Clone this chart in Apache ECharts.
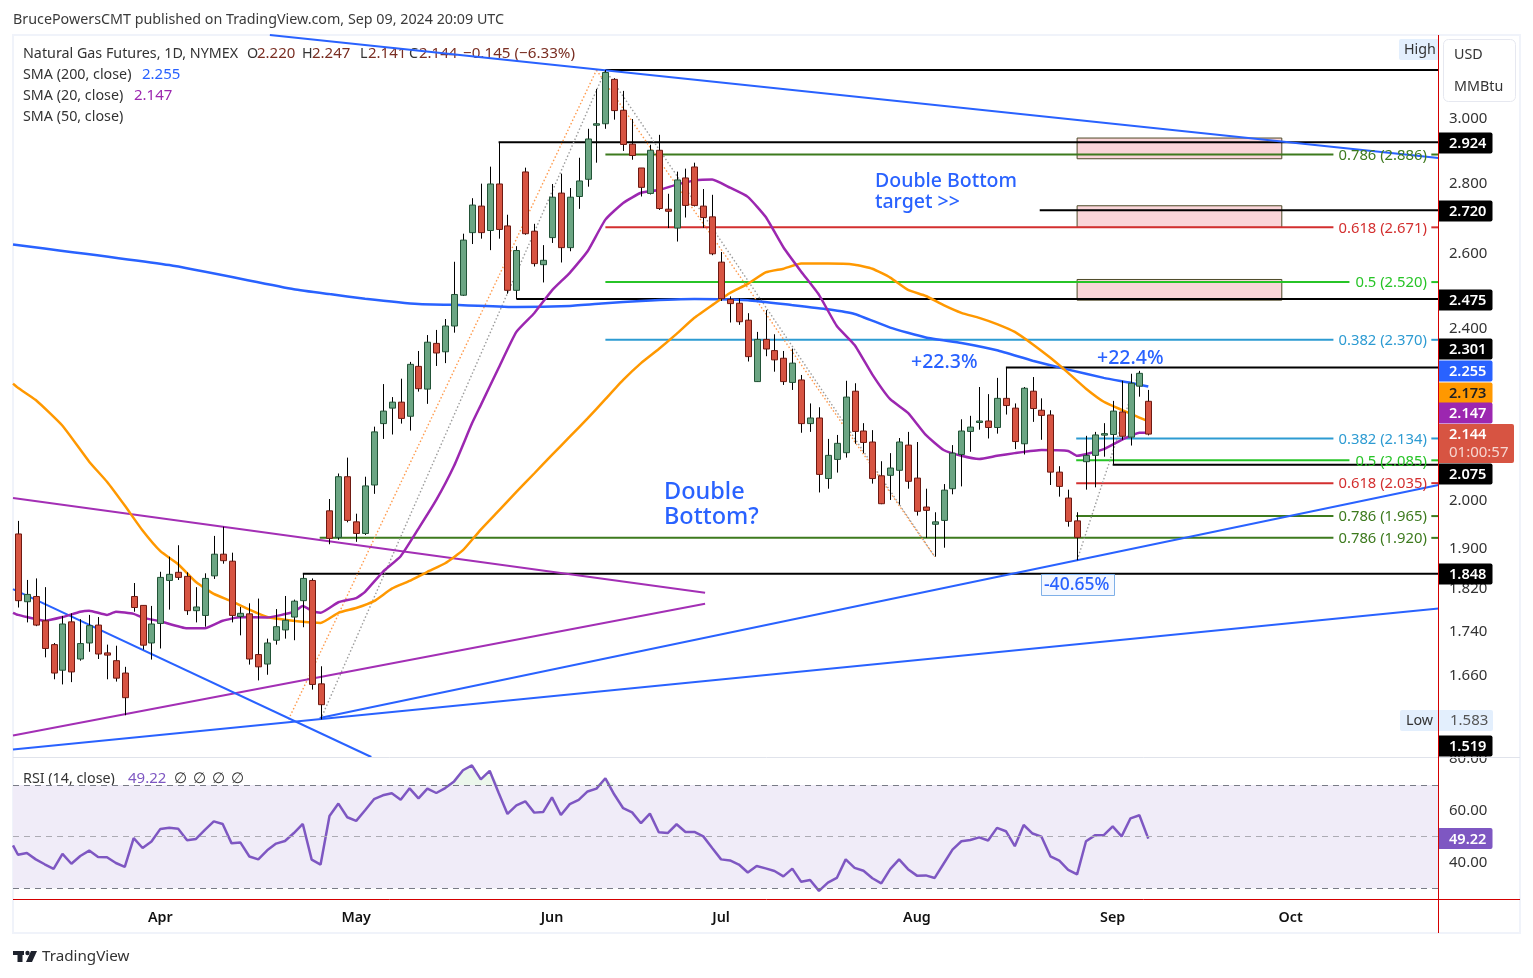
<!DOCTYPE html>
<html><head><meta charset="utf-8">
<style>html,body{margin:0;padding:0;background:#fff}#c{width:1533px;height:978px}</style>
<script src="https://cdn.jsdelivr.net/npm/echarts@6/dist/echarts.min.js"></script>
</head><body><div id="c"></div>
<script>
const opens=[1.928,1.794,1.804,1.758,1.714,1.668,1.756,1.688,1.717,1.750,1.699,1.685,1.663,1.804,1.787,1.717,1.753,1.835,1.851,1.843,1.777,1.768,1.844,1.887,1.873,1.766,1.771,1.696,1.679,1.722,1.741,1.765,1.796,1.835,1.644,1.976,1.921,2.049,1.953,1.929,2.031,2.168,2.204,2.218,2.185,2.304,2.249,2.361,2.340,2.405,2.485,2.656,2.732,2.662,2.797,2.675,2.498,2.833,2.660,2.567,2.642,2.770,2.614,2.760,2.811,2.978,2.982,3.126,3.025,2.918,2.845,2.769,2.899,2.723,2.669,2.815,2.848,2.732,2.701,2.574,2.474,2.464,2.420,2.267,2.371,2.343,2.324,2.265,2.271,2.168,2.181,2.045,2.087,2.102,2.244,2.151,2.126,2.051,2.052,2.063,2.119,2.046,1.984,1.948,1.956,2.023,2.098,2.150,2.171,2.174,2.159,2.227,2.204,2.122,2.244,2.199,2.188,2.059,2.003,1.955,2.082,2.096,2.143,2.143,2.195,2.137,2.256,2.220];
const closes=[1.796,1.808,1.750,1.707,1.663,1.752,1.665,1.716,1.749,1.697,1.695,1.654,1.620,1.783,1.713,1.752,1.841,1.847,1.841,1.777,1.784,1.839,1.887,1.874,1.768,1.772,1.688,1.674,1.717,1.747,1.759,1.795,1.839,1.643,1.608,1.919,2.049,1.956,1.929,2.029,2.149,2.197,2.218,2.180,2.309,2.250,2.364,2.337,2.405,2.487,2.635,2.735,2.656,2.797,2.665,2.498,2.606,2.653,2.570,2.579,2.758,2.614,2.758,2.806,2.934,2.982,3.149,3.024,2.917,2.883,2.787,2.899,2.725,2.717,2.809,2.734,2.734,2.699,2.597,2.476,2.463,2.416,2.328,2.371,2.347,2.320,2.267,2.312,2.168,2.181,2.054,2.096,2.123,2.230,2.150,2.125,2.045,1.991,2.068,2.126,2.039,1.975,1.977,1.953,2.020,2.101,2.151,2.160,2.174,2.159,2.227,2.210,2.127,2.251,2.203,2.187,2.059,2.028,1.954,1.921,2.096,2.142,2.145,2.197,2.139,2.263,2.287,2.144];
const highs=[1.955,1.836,1.839,1.822,1.717,1.767,1.772,1.761,1.769,1.765,1.714,1.712,1.674,1.830,1.787,1.786,1.852,1.882,1.905,1.851,1.822,1.849,1.924,1.943,1.890,1.784,1.791,1.800,1.725,1.780,1.805,1.798,1.849,1.839,1.675,2.001,2.056,2.091,1.970,2.049,2.161,2.261,2.230,2.274,2.315,2.342,2.382,2.395,2.423,2.575,2.653,2.755,2.798,2.849,2.924,2.707,2.618,2.846,2.681,2.621,2.797,2.828,2.785,2.876,2.966,3.094,3.157,3.130,3.088,2.997,2.845,2.916,2.947,2.768,2.834,2.843,2.861,2.782,2.765,2.602,2.482,2.477,2.438,2.390,2.446,2.384,2.342,2.348,2.283,2.215,2.206,2.133,2.142,2.269,2.263,2.169,2.153,2.083,2.101,2.135,2.149,2.126,2.023,1.973,2.033,2.119,2.178,2.186,2.254,2.237,2.276,2.301,2.215,2.254,2.278,2.227,2.199,2.072,2.021,1.973,2.140,2.149,2.169,2.221,2.269,2.286,2.293,2.247];
const lows=[1.783,1.755,1.748,1.691,1.652,1.643,1.647,1.685,1.701,1.688,1.652,1.648,1.590,1.775,1.705,1.687,1.707,1.779,1.836,1.769,1.755,1.747,1.838,1.868,1.755,1.731,1.678,1.650,1.660,1.714,1.725,1.722,1.746,1.634,1.583,1.907,1.916,1.952,1.912,1.926,2.012,2.133,2.143,2.168,2.152,2.243,2.214,2.305,2.312,2.388,2.483,2.624,2.639,2.607,2.639,2.489,2.475,2.650,2.562,2.519,2.627,2.573,2.604,2.724,2.789,2.861,2.966,2.995,2.897,2.870,2.760,2.766,2.721,2.669,2.631,2.699,2.731,2.670,2.593,2.470,2.414,2.408,2.316,2.266,2.329,2.291,2.259,2.247,2.147,2.149,2.015,2.023,2.058,2.091,2.122,2.101,2.034,1.990,1.999,1.989,2.023,1.966,1.920,1.882,1.900,2.011,2.028,2.104,2.154,2.134,2.145,2.189,2.110,2.098,2.172,2.131,2.031,2.006,1.943,1.875,2.021,2.026,2.093,2.075,2.131,2.118,2.231,2.141];

const sma20Idx=[-0.56,0,1,3,5,7,8,10,11,13,14,16,19,21,23,25,28,31,32,33,34,36,38,39,41,43,45,47,49,51,52,54,56,58,60,62,64,66,68,70,72,74,76,78,80,82,84,86,88,90,92,94,96,98,100,102,104,106,108,110,112,115,118,119,122,124,126,127];
const sma20=[1.773,1.769,1.765,1.758,1.765,1.775,1.777,1.769,1.775,1.771,1.764,1.757,1.744,1.744,1.758,1.765,1.764,1.775,1.786,1.777,1.773,1.793,1.801,1.813,1.852,1.883,1.939,1.999,2.073,2.168,2.211,2.300,2.390,2.438,2.498,2.545,2.604,2.693,2.741,2.771,2.779,2.795,2.807,2.810,2.786,2.759,2.701,2.615,2.548,2.486,2.405,2.357,2.284,2.225,2.193,2.142,2.108,2.095,2.088,2.095,2.101,2.108,2.106,2.095,2.110,2.131,2.147,2.147];
const sma50Idx=[-0.56,0,2,5,8,10,12,14,16,18,20,22,24,26,28,30,32,34,36,38,40,42,44,46,48,50,52,54,56,58,60,62,64,66,68,70,72,74,76,78,80,82,84,86,88,91,94,96,98,100,102,104,106,108,110,112,114,116,118,120,122,124,126,127];
const sma50=[2.262,2.252,2.223,2.163,2.082,2.038,1.987,1.935,1.893,1.867,1.832,1.809,1.795,1.779,1.765,1.760,1.756,1.754,1.773,1.782,1.795,1.819,1.834,1.852,1.869,1.895,1.937,1.976,2.016,2.056,2.097,2.138,2.180,2.225,2.271,2.312,2.347,2.385,2.426,2.459,2.491,2.515,2.546,2.556,2.570,2.570,2.567,2.556,2.532,2.499,2.483,2.459,2.439,2.426,2.410,2.390,2.359,2.325,2.288,2.250,2.219,2.200,2.182,2.173];
const sma200Idx=[-0.56,17,31,35,39,45,50,56,62,66,70,76,82,87,91,94,98,102,106,110,114,118,122,125,127];
const sma200=[2.623,2.566,2.501,2.488,2.476,2.462,2.459,2.454,2.457,2.464,2.470,2.475,2.472,2.459,2.448,2.436,2.401,2.376,2.362,2.344,2.318,2.296,2.276,2.264,2.255];
const rsi=[43.0,43.7,41.2,39.3,37.5,43.3,39.5,42.5,44.6,42.1,42.0,39.8,38.3,49.4,45.6,48.1,53.0,53.4,53.1,48.6,49.1,52.6,55.9,54.9,47.4,47.7,42.3,41.2,44.7,47.3,48.3,51.4,54.9,41.1,39.2,58.0,62.8,57.5,56.1,60.2,64.5,66.0,66.8,64.3,68.7,64.8,68.6,66.9,68.8,71.4,75.7,77.6,72.2,75.5,67.0,58.8,62.1,63.7,59.3,59.5,65.2,58.4,62.6,64.2,67.5,68.6,72.6,66.3,61.0,59.4,55.2,58.9,51.7,51.4,54.8,51.8,51.8,50.1,45.6,41.2,40.8,39.2,36.1,38.6,37.7,36.7,34.6,37.6,32.5,33.2,29.0,32.2,34.0,41.2,37.9,36.8,33.9,31.9,37.4,41.2,37.4,34.9,35.0,34.0,39.5,45.0,48.2,48.7,49.7,48.5,53.4,52.1,46.3,54.5,51.2,50.0,42.4,40.7,37.1,35.4,48.2,50.5,50.6,54.0,50.1,57.1,58.3,49.22];
const rsiBefore=46.6;

const priceTicks=[3.0,2.8,2.6,2.4,2.0,1.9,1.82,1.74,1.66];
const rsiTicks=[80,60,40];
const monthLabels=['Apr','May','Jun','Jul','Aug','Sep','Oct'];
const monthIdx=[16,38,60,79,101,123,143];

const levelPrice=[3.157,2.924,2.720,2.475,2.301,2.075,1.848];
const levelStart=[66,54,114.8,56,111,123,32];

const fibRatio=['0.786','0.618','0.5','0.382','0.382','0.5','0.618','0.786','0.786'];
const fibPrice=[2.886,2.671,2.520,2.370,2.134,2.085,2.035,1.965,1.920];
const fibStart=[66,66,66,66,118.9,118.9,118.9,118.9,33.9];
const fibColor=['#3D7A1E','#D32F2F','#27C427','#2D9BD2','#2D9BD2','#27C427','#D32F2F','#3D7A1E','#3D7A1E'];

const zoneLeft=119, zoneRight=142;
const zoneTop=[2.937,2.733,2.527];
const zoneBottom=[2.873,2.671,2.472];

const blueTrends=[[[28.3,3.277],[159.6,2.875]],[[33.9,1.5855],[159.6,2.031]],[[-0.56,1.533],[159.6,1.781]],[[-0.56,1.818],[39.7,1.521]]];
const purpleTrends=[[[-0.56,2.003],[77.2,1.811]],[[-0.56,1.556],[77.2,1.790]]];
const orangeDots=[[[30.4,1.583],[65,3.157]],[[65,3.157],[103,1.882]]];
const greyDots=[[[34,1.583],[66,3.157]],[[66,3.157],[103,1.882]],[[119,1.875],[126,2.293]]];

const FONT='"Noto Sans",sans-serif';
const XMIN=-0.56, XMAX=159.55;
const lineS=(data,color,width,type,z,smooth)=>({type:'line',data,xAxisIndex:0,yAxisIndex:0,showSymbol:false,symbol:'none',silent:true,animation:false,z:z||2,
  smooth:smooth||false,lineStyle:{color,width,type:type||'solid',cap:'butt'},clip:true});
const zip=(a,b)=>a.map((v,i)=>[v,b[i]]);

const series=[];
// target zones
series.push({type:'custom',xAxisIndex:0,yAxisIndex:0,silent:true,animation:false,z:1,
  data:zoneTop.map((t,i)=>[zoneLeft,t,zoneRight,zoneBottom[i]]),
  renderItem(p,api){const a=api.coord([api.value(0),api.value(1)]),b=api.coord([api.value(2),api.value(3)]);
    return {type:'rect',shape:{x:a[0],y:a[1],width:b[0]-a[0],height:b[1]-a[1]},style:{fill:'#FAD5D9',stroke:'#4d4a28',lineWidth:1}};}});
// black levels
levelPrice.forEach((p,i)=>series.push(lineS([[levelStart[i],p],[XMAX,p]],'#000',2)));
// fib levels, with a gap for the label
fibPrice.forEach((p,i)=>{
  const gapL=fibRatio[i]==='0.5'?149.6:147.8;
  series.push(lineS([[fibStart[i],p],[gapL,p]],fibColor[i],2));
  series.push(lineS([[158.8,p],[XMAX,p]],fibColor[i],2));
});
orangeDots.forEach(d=>series.push(lineS(d,'#FF9A4D',1.4,[1.5,2.2])));
greyDots.forEach(d=>series.push(lineS(d,'#9C9C9C',1.4,[1.5,2.2])));
purpleTrends.forEach(d=>series.push(lineS(d,'#A32FB5',2)));
blueTrends.forEach(d=>series.push(lineS(d,'#2962FF',2)));
series.push(lineS(zip(sma200Idx,sma200),'#2962FF',2.5,'solid',3,0.15));
series.push(lineS(zip(sma50Idx,sma50),'#FF9800',2.5,'solid',3,0.15));
series.push(lineS(zip(sma20Idx,sma20),'#9C27B0',2.5,'solid',3,0.15));
// candles
series.push({type:'custom',xAxisIndex:0,yAxisIndex:0,silent:true,animation:false,z:5,clip:true,
  data:opens.map((o,i)=>[i,o,closes[i],lows[i],highs[i]]),
  encode:{x:0,y:[1,2,3,4]},
  renderItem(p,api){
    const i=api.value(0),o=api.value(1),c=api.value(2),l=api.value(3),h=api.value(4);
    const up=c>=o;const x=Math.round(api.coord([i,o])[0]);
    const yo=api.coord([i,o])[1],yc=api.coord([i,c])[1],yl=api.coord([i,l])[1],yh=api.coord([i,h])[1];
    const top=Math.min(yo,yc),ht=Math.max(Math.abs(yo-yc),1.5);
    return {type:'group',children:[
      {type:'line',shape:{x1:x+.5,y1:yh,x2:x+.5,y2:yl},style:{stroke:'#000',lineWidth:1}},
      {type:'rect',shape:{x:x-2.5,y:top,width:6,height:ht},style:{fill:up?'#6BA583':'#D75442',stroke:up?'#225437':'#6F1A12',lineWidth:1}}
    ]};
  }});
// fib labels
series.push({type:'custom',xAxisIndex:0,yAxisIndex:0,silent:true,animation:false,z:4,
  data:fibPrice.map(p=>[158.3,p]),
  renderItem(p,api){const c=api.coord([api.value(0),api.value(1)]);const i=p.dataIndex;
    return {type:'text',style:{text:fibRatio[i]+' ('+fibPrice[i].toFixed(3)+')',x:c[0],y:c[1]+1,align:'right',verticalAlign:'middle',fill:fibColor[i],font:'14.8px '+FONT}};}});
// price axis tick labels, placed by the log scale
series.push({type:'custom',xAxisIndex:0,yAxisIndex:0,silent:true,animation:false,z:6,
  data:priceTicks.map(p=>[XMAX,p]),
  renderItem(p,api){const c=api.coord([api.value(0),api.value(1)]);
    return {type:'text',style:{text:priceTicks[p.dataIndex].toFixed(3),x:c[0]+11,y:c[1]+1,align:'left',verticalAlign:'middle',fill:'#333',font:'15px '+FONT}};}});
// RSI
series.push({type:'line',name:'RSI overbought',xAxisIndex:1,yAxisIndex:1,showSymbol:false,symbol:'none',silent:true,animation:false,z:2,
  data:rsi.map((v,i)=>[i,Math.max(v,70)]),lineStyle:{opacity:0,width:0},areaStyle:{origin:70,color:'rgba(76,175,80,0.15)'}});
series.push({type:'line',name:'RSI',xAxisIndex:1,yAxisIndex:1,showSymbol:false,symbol:'none',silent:true,animation:false,z:3,
  data:[[-0.56,rsiBefore]].concat(rsi.map((v,i)=>[i,v])),lineStyle:{color:'#7E57C2',width:2.5},
  markArea:{silent:true,itemStyle:{color:'#F0ECF8'},data:[[{yAxis:70},{yAxis:30}]]},
  markLine:{silent:true,symbol:'none',label:{show:false},animation:false,
    data:[{yAxis:70,lineStyle:{color:'#787B86',type:[6,5],width:1}},{yAxis:50,lineStyle:{color:'#ACABB3',type:[6,5],width:1}},{yAxis:30,lineStyle:{color:'#787B86',type:[6,5],width:1}}]}});

const T=(text,x,y,fill,size,extra,weight)=>Object.assign({type:'text',z:1,silent:true,style:{text,x,y:y+1,fill,font:(weight?weight+' ':'')+(size||14.3)+'px '+FONT,verticalAlign:'middle'}},extra||{});
const g=[];
// header
g.push(T('BrucePowersCMT published on TradingView.com, Sep 09, 2024 20:09 UTC',13,19,'#3a3a3a',14.3));
const VC='#7A2E22',KC='#333';
g.push(T('Natural Gas Futures, 1D, NYMEX',23,53,KC,14.3));
[['O',247,'2.220',257],['H',302,'2.247',312],['L',360,'2.141',368],['C',409,'2.144',419]].forEach(r=>{g.push(T(r[0],r[1],53,KC));g.push(T(r[2],r[3],53,VC,15));});
g.push(T('\u22120.145 (\u22126.33%)',463,53,VC,15.2));
g.push(T('SMA (200, close)',23,74,KC));g.push(T('2.255',142,74,'#2962FF',15));
g.push(T('SMA (20, close)',23,95,KC));g.push(T('2.147',134,95,'#9C27B0',15));
g.push(T('SMA (50, close)',23,116,KC));
g.push(T('RSI (14, close)',23,778,KC));g.push(T('49.22',128,778,'#7E57C2',15));
[174,193,212,231].forEach(x=>g.push(T('\u2205',x,778,KC,15)));
// annotations
const BL='#2962FF';
g.push(T('Double Bottom',875,180,BL,19.5,{z:6},500));g.push(T('target >>',875,201,BL,19.5,{z:6},500));
g.push(T('Double',664,491,BL,23.5,{z:6},500));g.push(T('Bottom?',664,516,BL,23.5,{z:6},500));
g.push(T('+22.3%',911,361,BL,19.5,{z:6},500));g.push(T('+22.4%',1097,357,BL,19.5,{z:6},500));
g.push({type:'rect',z:6,silent:true,shape:{x:1041.5,y:574.5,width:73,height:21},style:{fill:'#F4F8FF',stroke:'#7FB0E8',lineWidth:1}});
g.push(T('-40.65%',1044,584,BL,17.5,{z:7},500));
// frame
const line=(x1,y1,x2,y2,stroke,w,z)=>({type:'line',z:z||50,silent:true,shape:{x1,y1,x2,y2},style:{stroke,lineWidth:w||1}});
g.push({type:'rect',z:0,silent:true,shape:{x:13,y:35,width:1507,height:898},style:{fill:'none',stroke:'#F0F3FA',lineWidth:2}});
g.push(line(13,757.5,1520,757.5,'#E0E3EB',1,0));
g.push(line(1438.5,35,1438.5,933,'#D40000',1,50));
g.push(line(13,899.5,1520,899.5,'#D40000',1,50));
// currency box
g.push({type:'rect',z:60,silent:true,shape:{x:1443.5,y:39.5,width:72,height:62,r:5},style:{fill:'#fff',stroke:'#E6E8F0',lineWidth:1}});
g.push(T('USD',1454,54,'#333',14.3,{z:61}));g.push(T('MMBtu',1454,86,'#333',14.3,{z:61}));
// tags
const tag=(t,y,bg,fg)=>{g.push({type:'rect',z:70,silent:true,shape:{x:1439,y:y-10.5,width:53.5,height:21,r:[0,2,2,0]},style:{fill:bg}});
  g.push(T(t,1449,y,fg||'#fff',14.6,{z:71},600));};
tag('2.924',143,'#000');tag('2.720',211,'#000');tag('2.475',300,'#000');tag('2.301',349,'#000');
tag('2.255',371,'#2962FF');tag('2.173',393,'#FF9800','#222');tag('2.147',413,'#9C27B0');
g.push({type:'rect',z:70,silent:true,shape:{x:1439,y:424,width:75,height:39,r:[0,2,2,0]},style:{fill:'#D75442'}});
g.push(T('2.144',1449,434,'#fff',14.6,{z:71},600));g.push(T('01:00:57',1449,452,'#F6D6D0',15,{z:71}));
tag('2.075',474,'#000');tag('1.848',574,'#000');tag('1.519',746,'#000');
tag('49.22',838.5,'#7E57C2');
// high / low
g.push({type:'rect',z:40,silent:true,shape:{x:1399,y:39,width:39,height:21,r:[2,0,0,2]},style:{fill:'#E3EFFD'}});
g.push(T('High',1404,48.5,'#333',14.3,{z:41}));
g.push({type:'rect',z:40,silent:true,shape:{x:1400,y:710,width:93,height:21,r:2},style:{fill:'#E3EFFD'}});
g.push(T('Low',1406,720,'#333',14.3,{z:41}));g.push(T('1.583',1450,720,'#555',15,{z:41}));
// logo
g.push({type:'rect',z:5,silent:true,shape:{x:13,y:951,width:11,height:4},style:{fill:'#1e222d'}});
g.push({type:'rect',z:5,silent:true,shape:{x:17.5,y:951,width:5,height:11},style:{fill:'#1e222d'}});
g.push({type:'circle',z:5,silent:true,shape:{cx:27.5,cy:953,r:2.2},style:{fill:'#1e222d'}});
g.push({type:'polygon',z:5,silent:true,shape:{points:[[31,951],[37,951],[32,962],[26,962]]},style:{fill:'#1e222d'}});
g.push(T('TradingView',42,956,'#333',15.2));

const chart=echarts.init(document.getElementById('c'),null,{renderer:'canvas'});
chart.setOption({animation:false,backgroundColor:'#fff',
  grid:[{left:13,right:95,top:35,height:722,containLabel:false},{left:13,right:95,top:757,height:141}],
  xAxis:[
    {type:'value',gridIndex:0,min:XMIN,max:XMAX,axisLine:{show:false},axisTick:{show:false},axisLabel:{show:false},splitLine:{show:false}},
    {type:'value',gridIndex:1,min:XMIN,max:XMAX,axisLine:{show:false},axisTick:{show:false},splitLine:{show:false},
      axisLabel:{customValues:monthIdx,margin:13,color:'#111',fontFamily:FONT,fontSize:14.3,fontWeight:600,
        formatter:v=>monthLabels[monthIdx.indexOf(v)]||'',showMinLabel:true,showMaxLabel:true}}
  ],
  yAxis:[
    {type:'log',gridIndex:0,position:'right',min:1.521,max:3.277,logBase:10,axisLine:{show:false},axisTick:{show:false},axisLabel:{show:false},splitLine:{show:false}},
    {type:'value',gridIndex:1,position:'right',min:26.24,max:80.84,axisLine:{show:false},axisTick:{show:false},splitLine:{show:false},
      axisLabel:{customValues:rsiTicks,margin:11,color:'#333',fontFamily:FONT,fontSize:15,padding:[2,0,0,0],formatter:v=>v.toFixed(2)}}
  ],
  series,graphic:{elements:g}});
</script></body></html>
